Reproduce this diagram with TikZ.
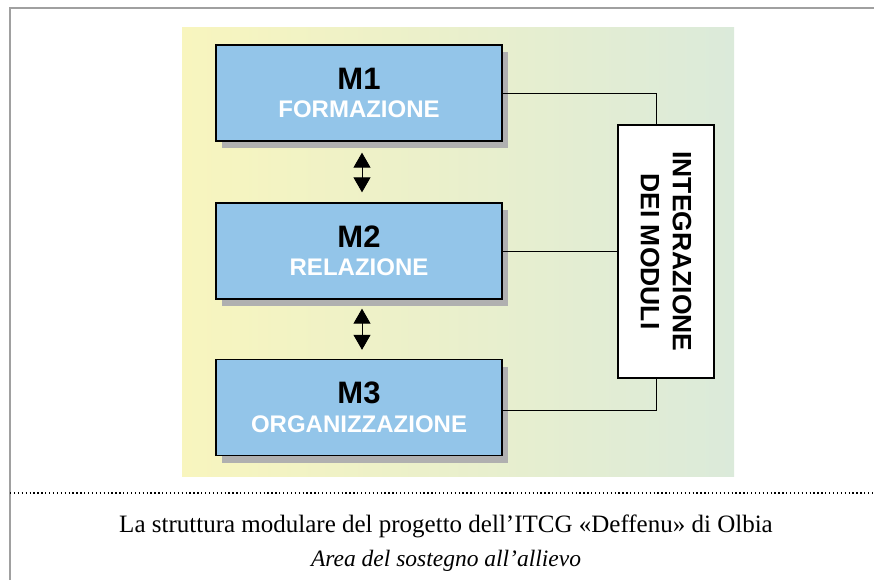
\documentclass[tikz,border=0pt]{standalone}
\usepackage{fontspec}
\setmainfont{Liberation Serif}
\setsansfont{Liberation Sans}
\usetikzlibrary{arrows.meta,shadows,calc}
\definecolor{boxblue}{RGB}{147,197,233}
\definecolor{shadowgray}{RGB}{176,176,176}
\definecolor{bgyellow}{RGB}{248,245,190}
\definecolor{bggreen}{RGB}{219,234,218}
\definecolor{framegray}{RGB}{160,160,160}
\newcommand{\modtext}[2]{{\fontsize{31}{31}\selectfont #1}\\{\color{white}#2}}
\begin{document}
\begin{tikzpicture}[x=1pt,y=-1pt,
  modbox/.style={draw=black, line width=1.3pt, fill=boxblue,
    minimum width=286pt, minimum height=96pt, inner sep=0pt,
    align=center, font=\sffamily\bfseries\fontsize{24}{28.5}\selectfont,
    drop shadow={shadow xshift=6pt, shadow yshift=-7pt, fill=shadowgray, opacity=1}},
  intbox/.style={draw=black, line width=1.3pt, fill=white,
    minimum width=96pt, minimum height=253pt, inner sep=0pt},
  conn/.style={draw=black, line width=0.9pt},
  dblarrow/.style={line width=0.9pt, {Triangle[width=17pt,length=15pt]}-{Triangle[width=17pt,length=15pt]}}]
\useasboundingbox (0,0) rectangle (874,580);
% frame
\draw[framegray, line width=2pt] (10,580) -- (10,8) -- (874,8);
% background
\shade[left color=bgyellow, right color=bggreen] (182,28) rectangle (734,476);
% modules
\node[modbox] (m1) at (359,93) {\modtext{M1}{FORMAZIONE}};
\node[modbox] (m2) at (359,251) {\modtext{M2}{RELAZIONE}};
\node[modbox] (m3) at (359,407.5) {\modtext{M3}{ORGANIZZAZIONE}};
% integration box
\node[intbox] (int) at (666,251.5) {};
\node[rotate=-90, align=center, font=\sffamily\bfseries\fontsize{26.5}{32}\selectfont] (intlabel) at (int.center) {INTEGRAZIONE\\DEI MODULI};
% arrows
\draw[dblarrow] ([shift={(3,11)}]m1.south) -- ([shift={(3,-10)}]m2.north);
\draw[dblarrow] ([shift={(3,9)}]m2.south) -- ([shift={(3,-9)}]m3.north);
% connectors
\draw[conn] (m1.east) -| ([xshift=-10pt]int.north);
\draw[conn] (m2.east) -- (m2.east -| int.west);
\draw[conn] ([yshift=-2.5pt]m3.east) -| ([xshift=-10pt]int.south);
% dotted separator
\draw[black, line width=1.3pt, dash pattern=on 1.3pt off 2.6pt] (10,493) -- (874,493);
% caption
\node[font=\fontsize{25}{28}\selectfont] (cap1) at (446,526) {La struttura modulare del progetto dell’ITCG «Deffenu» di Olbia};
\node[font=\itshape\fontsize{23.5}{28}\selectfont] (cap2) at (446,561) {Area del sostegno all’allievo};
\end{tikzpicture}
\end{document}
